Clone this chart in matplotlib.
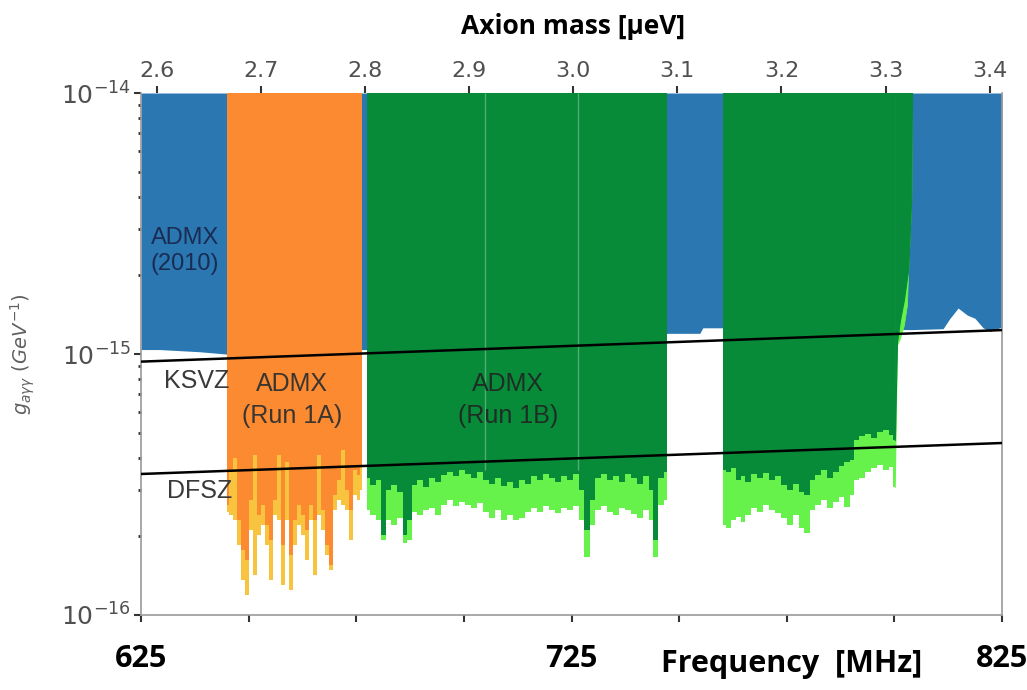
import numpy as np
import matplotlib.pyplot as plt
from matplotlib.ticker import NullFormatter

# frequency in MHz, coupling in units of 1e-16 GeV^-1
UNIT = 1e-16
G_TOP = 1e-14

# ADMX 2010 exclusion (lower edge)
freq_2010 = [625.0, 629.4, 638.7, 644.7, 662.0, 676.3, 677.5, 747.6, 754.8, 755.5,
             760.0, 803.9, 811.3, 812.9, 814.8, 816.9, 818.7, 820.6, 822.2, 825.0]
g_2010 = [10.4, 10.4, 10.2, 10.0, 10.2, 10.4, 10.4, 12.0, 12.0, 12.6,
          12.6, 12.4, 12.5, 13.7, 15.0, 14.1, 13.7, 12.6, 12.2, 12.7]

# Run 1A
freq_1a = [645.0, 645.9, 646.8, 647.8, 648.7, 649.6, 650.6, 651.5, 652.4, 653.3,
           654.3, 655.2, 656.1, 657.1, 658.0, 658.9, 659.8, 660.8, 661.7, 662.6,
           663.6, 664.5, 665.4, 666.3, 667.3, 668.2, 669.1, 670.1, 671.0, 671.9,
           672.9, 673.8, 674.7, 675.6, 676.3]
g_1a = [2.64, 3.59, 4.00, 2.31, 1.77, 1.62, 2.76, 4.10, 2.42, 2.64,
        2.21, 1.94, 2.76, 4.10, 1.85, 3.86, 1.70, 2.31, 2.64, 2.42,
        2.12, 2.64, 2.31, 4.10, 2.53, 1.85, 1.56, 2.88, 3.29, 4.29,
        3.01, 2.53, 3.59, 3.44, 3.76]
g_1a_light = [2.49, 2.42, 2.31, 1.85, 1.36, 1.19, 2.12, 1.42, 2.03, 2.21,
              1.85, 1.36, 2.42, 2.31, 1.30, 2.31, 1.25, 1.85, 2.21, 2.03,
              1.62, 2.31, 1.42, 2.42, 2.12, 1.70, 1.49, 2.53, 2.76, 2.64,
              2.53, 1.94, 2.88, 2.76, 3.01]

# Run 1B, first block
freq_1b_a = [677.5, 678.9, 680.3, 681.2, 682.4, 683.8, 685.2, 686.3, 687.3, 688.4,
             689.8, 691.2, 692.6, 694.0, 695.4, 696.8, 698.2, 699.6, 701.0, 702.4,
             703.7, 705.1, 706.5, 707.9, 709.3, 710.7, 712.1, 713.5, 714.9, 716.3,
             717.7, 719.1, 720.5, 721.9, 723.3, 724.7, 726.0, 727.4, 728.6, 729.8,
             731.2, 732.6, 733.9, 735.3, 736.7, 738.1, 739.5, 740.9, 742.3, 743.5,
             744.4, 745.6, 747.2]
g_1b_a = [3.35, 3.15, 3.29, 2.03, 3.01, 3.15, 2.96, 2.03, 2.31, 3.15,
          3.29, 3.09, 3.35, 3.23, 3.44, 3.53, 3.41, 3.59, 3.47, 3.35,
          3.53, 3.29, 3.18, 3.35, 3.12, 3.23, 3.06, 3.29, 3.18, 3.41,
          3.29, 3.47, 3.35, 3.23, 3.41, 3.29, 3.47, 3.01, 2.12, 2.76,
          3.35, 3.47, 3.29, 3.41, 3.23, 3.47, 3.35, 3.18, 3.41, 3.01,
          1.94, 3.35, 3.53]
g_1b_a_light = [2.53, 2.42, 2.31, 1.94, 2.31, 2.21, 2.35, 1.89, 1.94, 2.48,
                2.42, 2.53, 2.57, 2.42, 2.64, 2.76, 2.62, 2.71, 2.64, 2.57,
                2.69, 2.48, 2.35, 2.53, 2.31, 2.42, 2.31, 2.35, 2.48, 2.57,
                2.48, 2.62, 2.53, 2.46, 2.57, 2.53, 2.62, 2.31, 1.67, 2.21,
                2.53, 2.62, 2.48, 2.42, 2.57, 2.53, 2.44, 2.35, 2.53, 2.31,
                1.67, 2.64, 2.76]

# Run 1B, second block
freq_1b_b = [760.2, 761.4, 762.5, 763.7, 764.8, 766.0, 767.4, 768.8, 770.2, 771.6,
             773.0, 774.4, 775.8, 777.1, 778.5, 779.7, 780.9, 782.3, 783.7, 785.0,
             786.4, 787.8, 789.0, 790.2, 791.1, 792.5, 793.9, 795.3, 796.7, 798.1,
             799.2, 800.1]
g_1b_b = [3.59, 3.53, 3.66, 3.29, 3.41, 3.23, 3.47, 3.35, 3.50, 3.29,
          3.41, 3.15, 3.01, 3.18, 2.96, 2.88, 3.29, 3.44, 3.59, 3.35,
          3.53, 3.72, 3.86, 3.93, 4.68, 4.85, 4.94, 4.77, 5.02, 5.11,
          4.90, 4.68]
g_1b_b_light = [2.21, 2.15, 2.31, 2.37, 2.27, 2.42, 2.57, 2.48, 2.64, 2.53,
                2.46, 2.35, 2.21, 2.42, 2.15, 2.06, 2.53, 2.64, 2.76, 2.57,
                2.71, 2.83, 2.60, 2.88, 3.29, 3.35, 3.53, 3.66, 3.76, 3.59,
                3.70, 3.09]

# steep upper end of the second block
freq_1b_edge = [800.1, 800.6, 801.3, 802.2, 802.9, 803.2, 803.9, 804.1]
g_1b_edge = [4.68, 11.1, 13.5, 16.1, 19.5, 21.0, 38.9, 100.0]
g_1b_edge_light = [3.09, 10.8, 11.5, 12.9, 15.4, 21.0, 38.9, 100.0]

seam_freq = [704.9, 726.5]

# benchmark models
ksvz_freq = [625, 825]
ksvz_g = [9.35, 12.35]
dfsz_freq = [625, 825]
dfsz_g = [3.47, 4.56]

freq_ticks = [625, 650, 675, 700, 725, 750, 775, 800, 825]
freq_ticklabels = ['625', '', '', '', '725', '', '', '', '825']
mass_ticks = [2.6, 2.7, 2.8, 2.9, 3.0, 3.1, 3.2, 3.3, 3.4]
MHZ_PER_UEV = 241.8

BLUE = '#2a77b2'
ORANGE = '#fb8a30'
YELLOW = '#f8c440'
GREEN = '#078b39'
LGREEN = '#66f24a'


def scaled(vals):
    return np.array(vals) * UNIT


fig = plt.figure(figsize=(10.27, 6.9), dpi=100)
ax = fig.add_axes([0.1373, 0.1087, 0.8384, 0.7565])
ax.set_yscale('log')

ax.fill_between(freq_2010, scaled(g_2010), G_TOP, color=BLUE, lw=0, zorder=1)
ax.fill_between(freq_1a, scaled(g_1a_light), G_TOP, step='mid', color=YELLOW, lw=0, zorder=2)
ax.fill_between(freq_1a, scaled(g_1a), G_TOP, step='mid', color=ORANGE, lw=0, zorder=3)
for f, g, gl in [(freq_1b_a, g_1b_a, g_1b_a_light), (freq_1b_b, g_1b_b, g_1b_b_light)]:
    ax.fill_between(f, scaled(gl), G_TOP, step='mid', color=LGREEN, lw=0, zorder=2)
    ax.fill_between(f, scaled(g), G_TOP, step='mid', color=GREEN, lw=0, zorder=3)
ax.fill_between(freq_1b_edge, scaled(g_1b_edge_light), G_TOP, facecolor=LGREEN,
                edgecolor=LGREEN, lw=0.6, zorder=2)
ax.fill_between(freq_1b_edge, scaled(g_1b_edge), G_TOP, facecolor=GREEN,
                edgecolor=GREEN, lw=0.8, zorder=3)
ax.vlines(seam_freq, 3.6e-16, G_TOP, colors='white', lw=1, alpha=0.3, zorder=4)

ax.plot(ksvz_freq, scaled(ksvz_g), color='black', lw=1.8, zorder=5)
ax.plot(dfsz_freq, scaled(dfsz_g), color='black', lw=1.8, zorder=5)

lab = dict(ha='center', va='center', family='Liberation Sans', zorder=6)
ax.text(635.2, 24.8e-16, 'ADMX\n(2010)', fontsize=17, color='#1a2c52', linespacing=1.25, **lab)
ax.text(638.0, 7.9e-16, 'KSVZ', fontsize=18, color='#3a3a3a', **lab)
ax.text(638.7, 2.99e-16, 'DFSZ', fontsize=18, color='#3a3a3a', **lab)
ax.text(660.1, 6.67e-16, 'ADMX\n(Run 1A)', fontsize=18, color='#3b3530', linespacing=1.45, **lab)
ax.text(710.2, 6.67e-16, 'ADMX\n(Run 1B)', fontsize=18, color='#1e2e24', linespacing=1.45, **lab)

ax.set_xlim(625, 825)
ax.set_ylim(1e-16, 1e-14)

ax.set_xticks(freq_ticks)
ax.set_xticklabels(freq_ticklabels, family='Open Sans', fontweight='bold', fontsize=22)
ax.tick_params(axis='x', direction='out', length=5, width=1.5, pad=16, color='#333333',
               labelcolor='black')
ax.tick_params(axis='y', which='major', length=5, width=1.5, labelsize=18,
               labelcolor='#505050', color='#333333', pad=2)
ax.tick_params(axis='y', which='minor', length=2, width=2, color='#333333')
ax.yaxis.set_minor_formatter(NullFormatter())

for side in ['left', 'bottom', 'right']:
    ax.spines[side].set_color('#9a9a9a')
    ax.spines[side].set_linewidth(1.2)
ax.spines['top'].set_visible(False)

ax.set_ylabel(r'$g_{a\gamma\gamma}\ (GeV^{-1})$', fontsize=14, color='#606060')
ax.yaxis.set_label_coords(-0.121, 0.5)

secax = ax.secondary_xaxis('top', functions=(lambda f: f / MHZ_PER_UEV,
                                              lambda m: m * MHZ_PER_UEV))
secax.set_xticks(mass_ticks)
secax.set_xticklabels([f'{m:.1f}' for m in mass_ticks])
secax.tick_params(length=5, width=1.5, labelsize=16, labelcolor='#505050',
                  color='#333333', pad=4)
secax.spines['top'].set_visible(False)

fig.text(573 / 1027, 1 - 27 / 690, 'Axion mass [μeV]', family='Open Sans',
         fontweight='bold', fontsize=19, ha='center', va='center')
fig.text(792 / 1027, 1 - 664 / 690, 'Frequency  [MHz]', family='Open Sans',
         fontweight='bold', fontsize=22, ha='center', va='center')

fig.savefig('out.png', dpi=100)
